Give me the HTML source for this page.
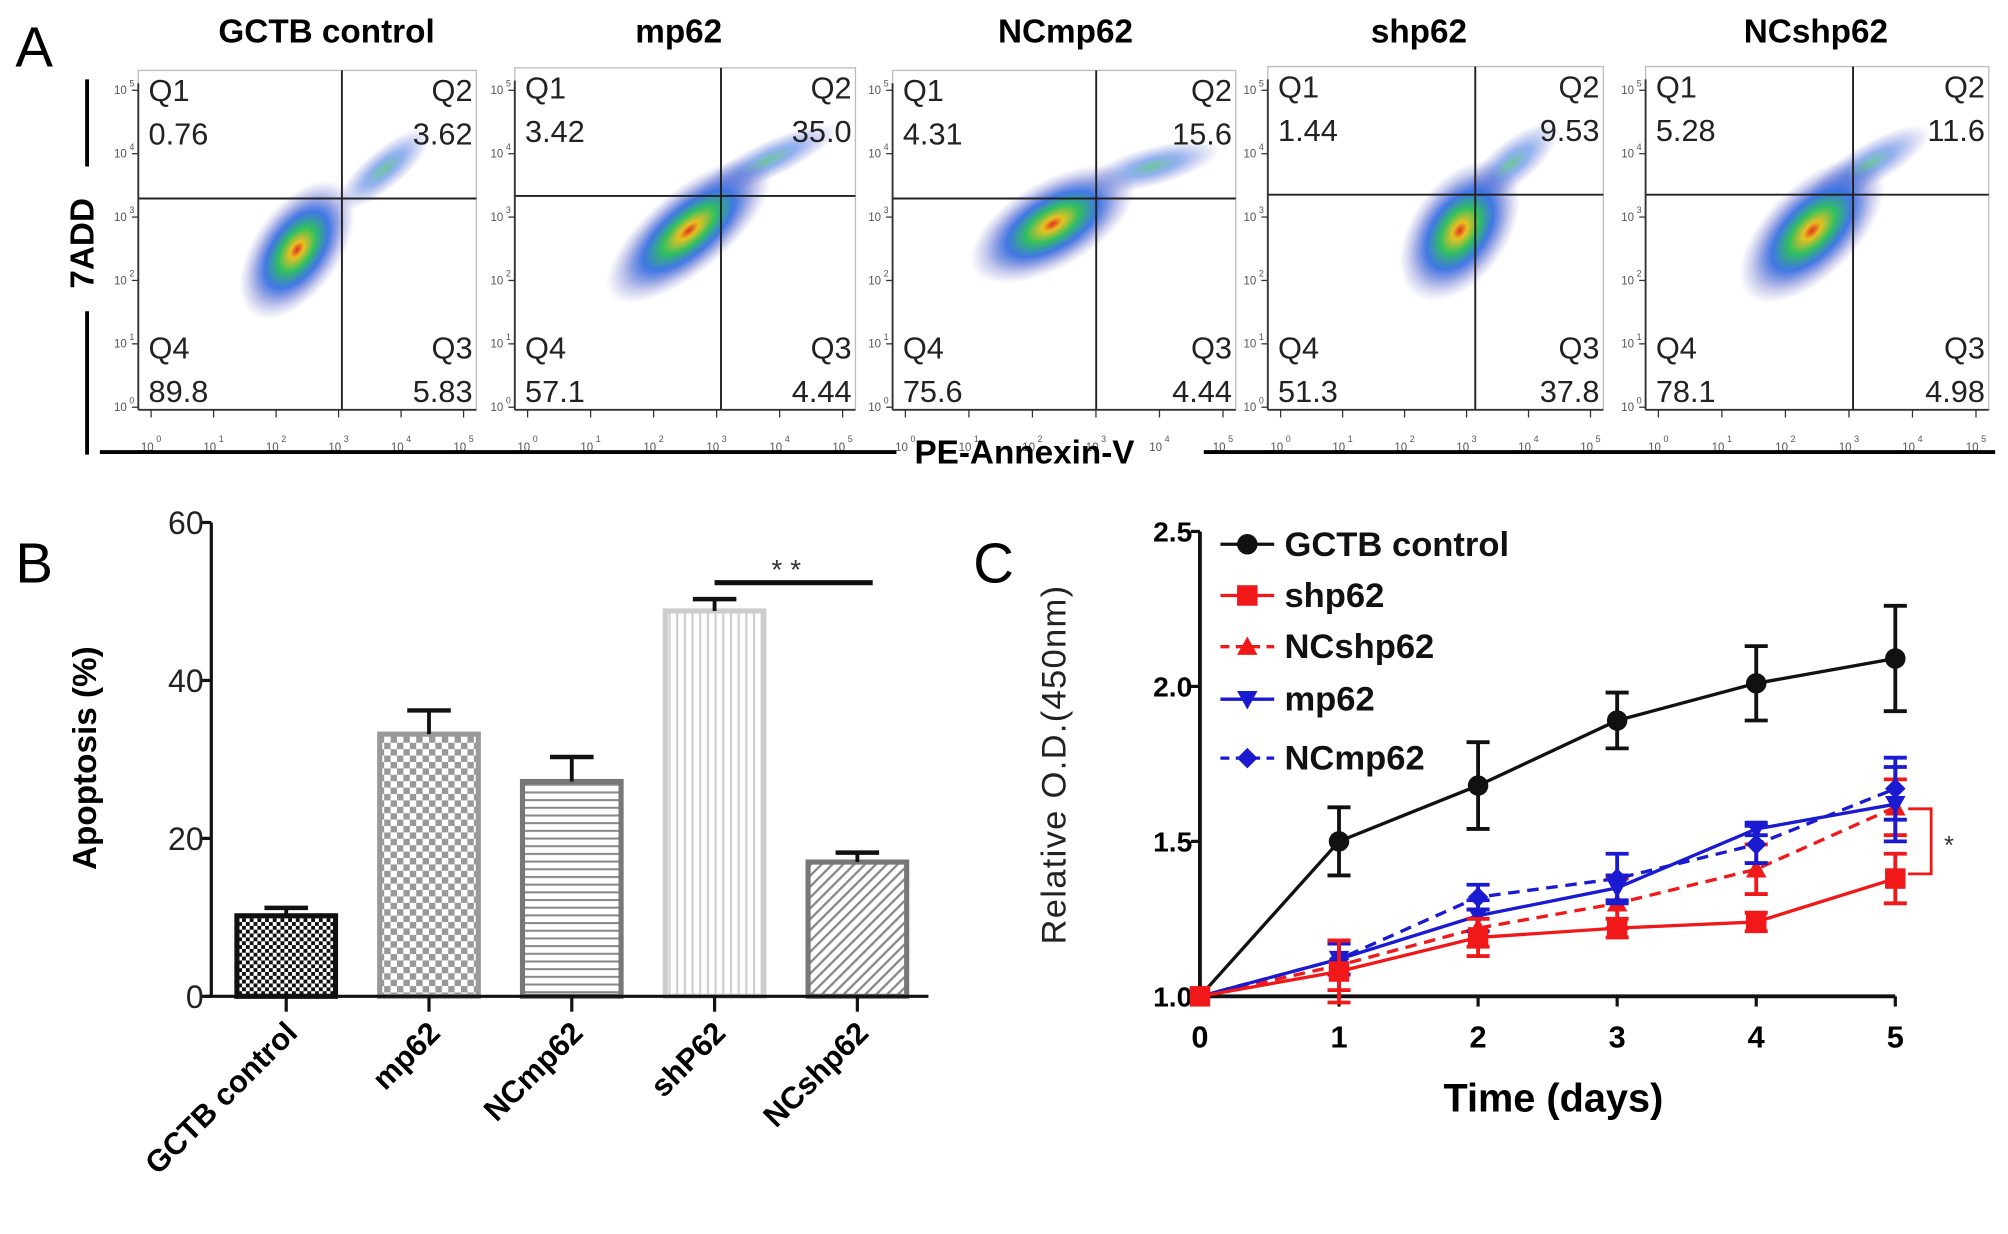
<!DOCTYPE html>
<html><head><meta charset="utf-8"><style>
html,body{margin:0;padding:0;background:#fff}
svg{display:block}
text{font-family:"Liberation Sans",sans-serif}
</style></head><body>
<svg id="fig" width="2008" height="1234" viewBox="0 0 1568 963.6" xmlns="http://www.w3.org/2000/svg">
<defs>
<pattern id="pChk" width="6" height="6" patternUnits="userSpaceOnUse"><rect width="6" height="6" fill="#fff"/><rect width="3" height="3" fill="#111"/><rect x="3" y="3" width="3" height="3" fill="#111"/></pattern>
<pattern id="pChk2" width="10" height="10" patternUnits="userSpaceOnUse"><rect width="10" height="10" fill="#fff"/><rect width="5" height="5" fill="#999"/><rect x="5" y="5" width="5" height="5" fill="#999"/></pattern>
<pattern id="pHor" width="6" height="6" patternUnits="userSpaceOnUse"><rect width="6" height="6" fill="#fff"/><rect y="0" width="6" height="1.6" fill="#888"/></pattern>
<pattern id="pVer" width="6" height="6" patternUnits="userSpaceOnUse"><rect width="6" height="6" fill="#fff"/><rect width="1.6" height="6" fill="#ccc"/></pattern>
<pattern id="pDia" width="6" height="6" patternUnits="userSpaceOnUse" patternTransform="rotate(45)"><rect width="6" height="6" fill="#fff"/><rect width="1.8" height="6" fill="#888"/></pattern>
<radialGradient id="cloud"><stop offset="0" stop-color="#e03020"/><stop offset="0.12" stop-color="#e8c020"/><stop offset="0.32" stop-color="#30c060"/><stop offset="0.55" stop-color="#2060e0" stop-opacity="0.85"/><stop offset="0.8" stop-color="#3040c0" stop-opacity="0.3"/><stop offset="1" stop-color="#6060c0" stop-opacity="0"/></radialGradient>
<radialGradient id="cloudB"><stop offset="0" stop-color="#30b070"/><stop offset="0.4" stop-color="#2060e0" stop-opacity="0.7"/><stop offset="1" stop-color="#5050c0" stop-opacity="0"/></radialGradient>
</defs>
<g id="A"></g><g id="B"></g><g id="C"></g>
</svg>
<script>
// ---------- Panel A data ----------
const flowNames = ["GCTB control","mp62","NCmp62","shp62","NCshp62"];
const q1Vals = ["0.76","3.42","4.31","1.44","5.28"];
const q2Vals = ["3.62","35.0","15.6","9.53","11.6"];
const q3Vals = ["5.83","4.44","4.44","37.8","4.98"];
const q4Vals = ["89.8","57.1","75.6","51.3","78.1"];
// ---------- Panel B data ----------
const barCats = ["GCTB control","mp62","NCmp62","shP62","NCshp62"];
const barVals = [10.2, 33.2, 27.2, 48.8, 17.0];
const barErr = [1.0, 3.0, 3.1, 1.5, 1.2];
const barTicks = [0, 20, 40, 60];
// ---------- Panel C data ----------
const days = [0,1,2,3,4,5];
const odTicks = [1.0, 1.5, 2.0, 2.5];
const sGCTB = [1.0,1.50,1.68,1.89,2.01,2.09];
const eGCTB = [0,0.11,0.14,0.09,0.12,0.17];
const sShp = [1.0,1.08,1.19,1.22,1.24,1.38];
const eShp = [0,0.10,0.06,0.03,0.03,0.08];
const sNCshp = [1.0,1.10,1.22,1.30,1.41,1.61];
const eNCshp = [0,0.08,0.06,0.08,0.08,0.09];
const sMp = [1.0,1.12,1.26,1.35,1.54,1.62];
const eMp = [0,0.05,0.05,0.04,0.02,0.12];
const sNCmp = [1.0,1.12,1.32,1.38,1.49,1.67];
const eNCmp = [0,0.05,0.04,0.08,0.06,0.10];

const NS="http://www.w3.org/2000/svg";
function mk(parent,tag,attrs,txt){const e=document.createElementNS(NS,tag);for(const k in attrs)e.setAttribute(k,attrs[k]);if(txt!==undefined)e.textContent=txt;parent.appendChild(e);return e;}

// ---------- Panel A ----------
const A=document.getElementById('A');
let t=mk(A,'text',{x:12,y:52,'font-size':44},'A');


const plots=[[108,55,372,320,267,155],[402,53,668,320,563,153],[697,55,965,320,856,155],[990,52,1252,320,1152,152],[1285,52,1553,320,1447,152]];
const clouds=[[232,195,-55,62,34,300,132],[538,180,-40,80,32,600,125],[822,175,-30,72,34,900,130],[1140,180,-55,62,38,1180,128],[1415,180,-45,72,36,1460,128]];
const titleX=[255,530,832,1108,1418];
plots.forEach((p,i)=>{
  const [x0,y0,x1,y1,vx,hy]=p;
  const g=mk(A,'g',{});
  
  
  let tt=mk(g,'text',{x:titleX[i],y:33,'font-size':26,'font-weight':'bold','text-anchor':'middle'},flowNames[i]);
  
  
  mk(g,'rect',{x:x0,y:y0,width:x1-x0,height:y1-y0,fill:'#fff',stroke:'#bbb','stroke-width':1});
  const c=clouds[i];
  mk(g,'ellipse',{cx:c[5],cy:c[6],rx:c[3]*0.75,ry:c[4]*0.45,fill:'url(#cloudB)',transform:`rotate(${c[2]+15} ${c[5]} ${c[6]})`,opacity:0.7});
  mk(g,'ellipse',{cx:c[0],cy:c[1],rx:c[3],ry:c[4],fill:'url(#cloud)',transform:`rotate(${c[2]} ${c[0]} ${c[1]})`});
  mk(g,'line',{x1:vx,y1:y0,x2:vx,y2:y1,stroke:'#222','stroke-width':1.5});
  mk(g,'line',{x1:x0,y1:hy,x2:x1,y2:hy,stroke:'#222','stroke-width':1.5});
  const fs=24;
  mk(g,'text',{x:x0+8,y:y0+24,'font-size':fs,fill:'#222'},'Q1');
  mk(g,'text',{x:x0+8,y:y0+58,'font-size':fs,fill:'#222'},q1Vals[i]);
  mk(g,'text',{x:x1-3,y:y0+24,'font-size':fs,fill:'#222','text-anchor':'end'},'Q2');
  mk(g,'text',{x:x1-3,y:y0+58,'font-size':fs,fill:'#222','text-anchor':'end'},q2Vals[i]);
  mk(g,'text',{x:x0+8,y:y1-40,'font-size':fs,fill:'#222'},'Q4');
  mk(g,'text',{x:x0+8,y:y1-6,'font-size':fs,fill:'#222'},q4Vals[i]);
  mk(g,'text',{x:x1-3,y:y1-40,'font-size':fs,fill:'#222','text-anchor':'end'},'Q3');
  mk(g,'text',{x:x1-3,y:y1-6,'font-size':fs,fill:'#222','text-anchor':'end'},q3Vals[i]);
  mk(g,'line',{x1:x0,y1:y0+10,x2:x0,y2:y1,stroke:'#333','stroke-width':1.5});
  mk(g,'line',{x1:x0,y1:y1,x2:x1,y2:y1,stroke:'#333','stroke-width':1.5});
  for(let k=0;k<=5;k++){
    const yy=y1-2-k*49.5;
    mk(g,'line',{x1:x0-5,y1:yy,x2:x0,y2:yy,stroke:'#333'});
    mk(g,'text',{x:x0-14,y:yy+3,'font-size':9,fill:'#555','text-anchor':'middle'},'10');
    mk(g,'text',{x:x0-7,y:yy-3,'font-size':7,fill:'#555'},String(k));
    const xx=x0+10+k*((x1-x0-20)/5);
    mk(g,'line',{x1:xx,y1:y1,x2:xx,y2:y1+6,stroke:'#333'});
    mk(g,'text',{x:xx-3,y:y1+32,'font-size':9,fill:'#555','text-anchor':'middle'},'10');
    mk(g,'text',{x:xx+4,y:y1+25,'font-size':7,fill:'#555'},String(k));
  }
});
t=mk(A,'text',{x:0,y:0,'font-size':26,'font-weight':'bold','text-anchor':'middle',transform:'translate(73,190) rotate(-90)'},'7ADD');


mk(A,'line',{x1:68,y1:62,x2:68,y2:130,stroke:'#000','stroke-width':3});
mk(A,'line',{x1:68,y1:243,x2:68,y2:355,stroke:'#000','stroke-width':3});
mk(A,'line',{x1:78,y1:353,x2:700,y2:353,stroke:'#000','stroke-width':3});
mk(A,'line',{x1:940,y1:353,x2:1558,y2:353,stroke:'#000','stroke-width':3});
t=mk(A,'text',{x:800,y:362,'font-size':26,'font-weight':'bold','text-anchor':'middle'},'PE-Annexin-V');



// ---------- Panel B ----------
const B=document.getElementById('B');
t=mk(B,'text',{x:12,y:455,'font-size':44},'B');


const bY0=778,bY1=408,bMax=60,bAxX=165;
const yB=v=>bY0-(v/bMax)*(bY0-bY1);
const bCenters=[0,1,2,3,4].map(i=>223.5+i*111.5);
const bW=77;
const fills=['url(#pChk)','url(#pChk2)','url(#pHor)','url(#pVer)','url(#pDia)'];
const strokes=['#111','#999','#777','#ccc','#777'];
barVals.forEach((v,i)=>{
  const cx=bCenters[i];
  const r=mk(B,'rect',{x:cx-bW/2,y:yB(v),width:bW,height:bY0-yB(v),fill:fills[i],stroke:strokes[i],'stroke-width':4});
  
  
  const ye=yB(v+barErr[i]);
  mk(B,'line',{x1:cx,y1:yB(v),x2:cx,y2:ye,stroke:'#111','stroke-width':3});
  mk(B,'line',{x1:cx-17,y1:ye,x2:cx+17,y2:ye,stroke:'#111','stroke-width':3.5});
  mk(B,'line',{x1:cx,y1:bY0,x2:cx,y2:bY0+12,stroke:'#111','stroke-width':2.5});
  const lb=mk(B,'text',{x:0,y:0,'font-size':24,'font-weight':'bold','text-anchor':'end',transform:`translate(${cx+10},${bY0+30}) rotate(-45)`},barCats[i]);
  
  
});
mk(B,'line',{x1:bAxX,y1:bY1,x2:bAxX,y2:bY0,stroke:'#111','stroke-width':2.5});
mk(B,'line',{x1:bAxX-5,y1:bY0,x2:725,y2:bY0,stroke:'#111','stroke-width':2.5});
barTicks.forEach(v=>{
  mk(B,'line',{x1:bAxX-8,y1:yB(v),x2:bAxX,y2:yB(v),stroke:'#111','stroke-width':2.5});
  const tl=mk(B,'text',{x:bAxX-6,y:yB(v)+9,'font-size':25,'text-anchor':'end',fill:'#222'},String(v));
  
  
});
t=mk(B,'text',{x:0,y:0,'font-size':26,'font-weight':'bold','text-anchor':'middle',transform:'translate(75,592) rotate(-90)'},'Apoptosis (%)');


mk(B,'line',{x1:bCenters[3],y1:455,x2:bCenters[4]+12,y2:455,stroke:'#111','stroke-width':4});
mk(B,'text',{x:614,y:452,'font-size':22,'text-anchor':'middle',fill:'#333'},'* *');

// ---------- Panel C ----------
const C=document.getElementById('C');
t=mk(C,'text',{x:760,y:455,'font-size':44},'C');


const cX0=937,cX1=1480,cY0=778,cY1=415;
const xC=d=>cX0+(d/5)*(cX1-cX0);
const yC=v=>cY0-((v-1)/1.5)*(cY0-cY1);
mk(C,'line',{x1:cX0,y1:cY1,x2:cX0,y2:cY0,stroke:'#111','stroke-width':3});
mk(C,'line',{x1:cX0,y1:cY0,x2:cX1,y2:cY0,stroke:'#111','stroke-width':3});
odTicks.forEach(v=>{
  mk(C,'line',{x1:cX0-7,y1:yC(v),x2:cX0,y2:yC(v),stroke:'#111','stroke-width':2.5});
  const tl=mk(C,'text',{x:cX0-6,y:yC(v)+8,'font-size':22,'font-weight':'bold','text-anchor':'end'},v.toFixed(1));
  
  
});
days.forEach(d=>{
  mk(C,'line',{x1:xC(d),y1:cY0,x2:xC(d),y2:cY0+8,stroke:'#111','stroke-width':2.5});
  const tl=mk(C,'text',{x:xC(d),y:cY0+40,'font-size':24,'font-weight':'bold','text-anchor':'middle'},String(d));
  
  
});
t=mk(C,'text',{x:1213,y:868,'font-size':31,'font-weight':'bold','text-anchor':'middle'},'Time (days)');


t=mk(C,'text',{x:0,y:0,'font-size':27,'text-anchor':'middle',fill:'#222',transform:'translate(832,597) rotate(-90)','letter-spacing':1},'Relative O.D.(450nm)');



function marker(g,type,x,y,col,s){
  if(type==='circle')return mk(g,'circle',{cx:x,cy:y,r:s,fill:col});
  if(type==='square')return mk(g,'rect',{x:x-s,y:y-s,width:2*s,height:2*s,fill:col});
  if(type==='tri')return mk(g,'polygon',{points:`${x},${y-s} ${x-s},${y+s*0.8} ${x+s},${y+s*0.8}`,fill:col});
  if(type==='tridown')return mk(g,'polygon',{points:`${x},${y+s} ${x-s},${y-s*0.8} ${x+s},${y-s*0.8}`,fill:col});
  return mk(g,'polygon',{points:`${x},${y-s} ${x+s},${y} ${x},${y+s} ${x-s},${y}`,fill:col});
}
const series=[
 ['GCTB control',sGCTB,eGCTB,'#111','circle',false],
 ['NCshp62',sNCshp,eNCshp,'#f01818','tri',true],
 ['NCmp62',sNCmp,eNCmp,'#1a1ad0','diamond',true],
 ['mp62',sMp,eMp,'#1a1ad0','tridown',false],
 ['shp62',sShp,eShp,'#f01818','square',false]
];
series.forEach(s=>{
  const [name,vals,errs,col,mt,dash]=s;
  const g=mk(C,'g',{});
  
  
  const pts=vals.map((v,i)=>xC(days[i])+','+yC(v)).join(' ');
  mk(g,'polyline',{points:pts,fill:'none',stroke:col,'stroke-width':2.6,'stroke-dasharray':dash?'9,6':'none'});
  vals.forEach((v,i)=>{
    const x=xC(days[i]);
    if(errs[i]>0){
      mk(g,'line',{x1:x,y1:yC(v-errs[i]),x2:x,y2:yC(v+errs[i]),stroke:col,'stroke-width':3});
      mk(g,'line',{x1:x-9,y1:yC(v+errs[i]),x2:x+9,y2:yC(v+errs[i]),stroke:col,'stroke-width':3});
      mk(g,'line',{x1:x-9,y1:yC(v-errs[i]),x2:x+9,y2:yC(v-errs[i]),stroke:col,'stroke-width':3});
    }
    const m=marker(g,mt,x,yC(v),col,8);
    
    
  });
});
const legend=[['GCTB control','#111','circle',false],['shp62','#f01818','square',false],['NCshp62','#f01818','tri',true],['mp62','#1a1ad0','tridown',false],['NCmp62','#1a1ad0','diamond',true]];
const legY=[425,465,505,546,592];
legend.forEach((l,i)=>{
  const g=mk(C,'g',{});
  
  
  mk(g,'line',{x1:953,y1:legY[i],x2:995,y2:legY[i],stroke:l[1],'stroke-width':2.6,'stroke-dasharray':l[3]?'7,5':'none'});
  marker(g,l[2],974,legY[i],l[1],8);
  mk(g,'text',{x:1003,y:legY[i]+9,'font-size':27,'font-weight':'bold',fill:'#111'},l[0]);
});
const bx=1490;
mk(C,'polyline',{points:`${bx},${yC(1.605)} ${bx+18},${yC(1.605)} ${bx+18},${yC(1.395)} ${bx},${yC(1.395)}`,fill:'none',stroke:'#f01818','stroke-width':2.2});
mk(C,'text',{x:1518,y:yC(1.5)+10,'font-size':20,fill:'#333'},'*');
</script>
</body></html>
